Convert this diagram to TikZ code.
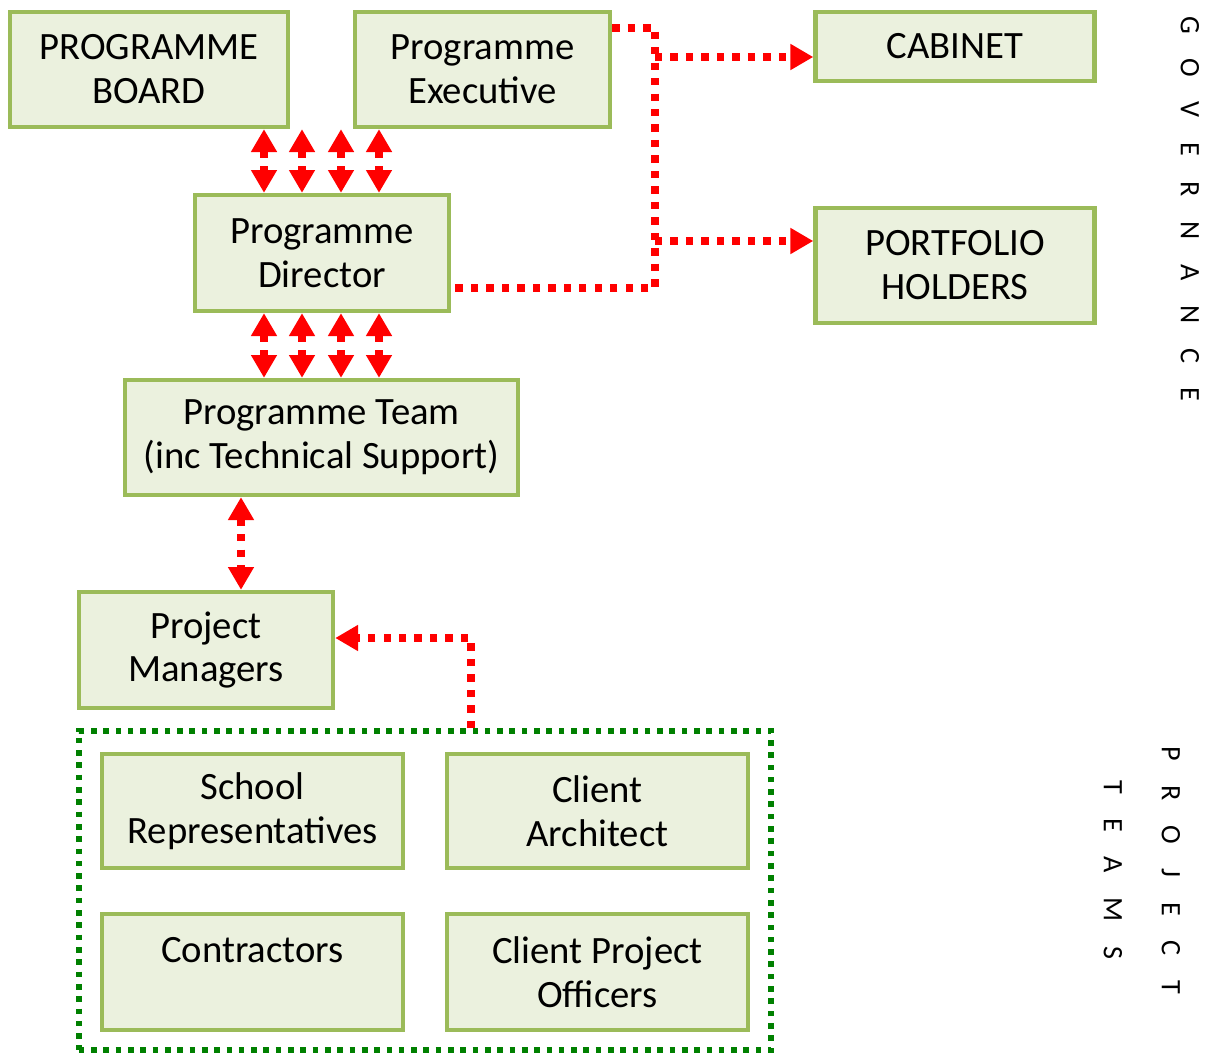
\documentclass[tikz,border=0pt]{standalone}
\usepackage{fontspec}
\setmainfont{Carlito}
\usetikzlibrary{arrows.meta,positioning}
\definecolor{boxfill}{HTML}{EBF1DE}
\definecolor{boxline}{HTML}{9BBB59}
\definecolor{teamgreen}{HTML}{008000}

\begin{document}
\begin{tikzpicture}[x=0.01cm, y=-0.01cm, >={Triangle[width=7pt,length=6.5pt]},
    font=\fontsize{11}{12.5}\selectfont]
    \tikzset{
        unit/.style={draw=boxline, fill=boxfill, line width=1.2pt, align=center, inner sep=0pt},
        link/.style={red, line width=2.1pt, dash pattern=on 2.1pt off 2.3pt},
        group/.style={draw=teamgreen, line width=1.6pt, dash pattern=on 1.6pt off 1.9pt},
        sidetext/.style={rotate=-90, align=center,
            font=\fontsize{8}{16.5}\selectfont\addfontfeature{LetterSpace=88}}
    }
    \useasboundingbox (0,0) rectangle (1215,1054);

    % governance
    \node[unit, minimum width=2.78cm, minimum height=1.15cm] (board) at (149,69.5) {PROGRAMME\\BOARD};
    \node[unit, minimum width=2.55cm, minimum height=1.15cm] (exec) at (482.5,69.5) {Programme\\Executive};
    \node[unit, minimum width=2.79cm, minimum height=0.69cm] (cabinet) at (955,46.5) {CABINET};
    \node[unit, minimum width=2.54cm, minimum height=1.16cm] (dir) at (322,253) {Programme\\Director};
    \node[unit, minimum width=2.79cm, minimum height=1.15cm] (folio) at (955,265.5) {PORTFOLIO\\HOLDERS};
    \node[unit, minimum width=3.93cm, minimum height=1.15cm] (team) at (321.5,437.5) {Programme Team\\(inc Technical Support)};

    % project teams
    \node[unit, minimum width=2.54cm, minimum height=1.16cm] (pm) at (206,650) {Project\\Managers};
    \node[group, minimum width=6.92cm, minimum height=3.19cm] (teams) at (425,890.5) {};
    \node[unit, minimum width=3.01cm, minimum height=1.14cm] (school) at (252.5,811) {School\\Representatives};
    \node[unit, minimum width=3.01cm, minimum height=1.14cm] (arch) at (597.5,811) {Client\\Architect};
    \node[unit, minimum width=3.01cm, minimum height=1.16cm] (contr) at (252.5,972) {Contractors\\\mbox{}};
    \node[unit, minimum width=3.01cm, minimum height=1.16cm] (cpo) at (597.5,972) {Client Project\\Officers};

    \node[sidetext] (gov) at (1190,209) {GOVERNANCE};
    \node[sidetext] (proj) at (1142,870) {PROJECT\\TEAMS};

    % links
    \foreach \x in {264,302,341,379} {
        \draw[link,<->] (\x,0 |- board.south) -- (\x,0 |- dir.north);
        \draw[link,<->] (\x,0 |- dir.south) -- (\x,0 |- team.north);
    }
    \draw[link,<->] (241,0 |- team.south) -- (241,0 |- pm.north);

    \draw[link] (exec.east |- 0,28) -- (655,28) -- (655,288) -- (dir.east |- 0,288);
    \draw[link,->] (655,57) -- (cabinet.west |- 0,57);
    \draw[link,->] (655,241) -- (folio.west |- 0,241);

    \draw[link,->] (471,0 |- teams.north) -- (471,638) -- (pm.east |- 0,638);
\end{tikzpicture}
\end{document}
